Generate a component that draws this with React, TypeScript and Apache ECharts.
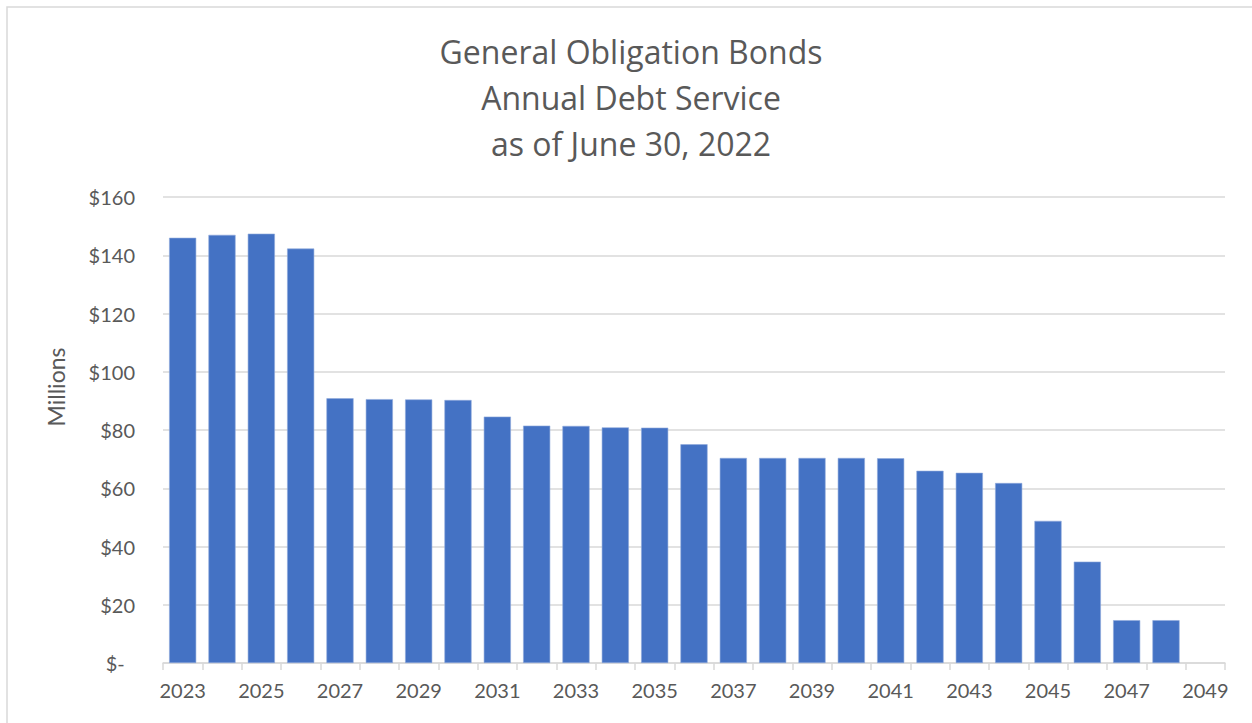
import React, { useEffect, useRef } from "react";
import * as echarts from "echarts";

const titleLines = ["General Obligation Bonds", "Annual Debt Service", "as of June 30, 2022"];
const years = [
  "2023", "2024", "2025", "2026", "2027", "2028", "2029", "2030", "2031", "2032",
  "2033", "2034", "2035", "2036", "2037", "2038", "2039", "2040", "2041", "2042",
  "2043", "2044", "2045", "2046", "2047", "2048", "2049",
];
const debtService = [
  146.0, 147.0, 147.4, 142.3, 90.9, 90.6, 90.5, 90.3, 84.6, 81.5,
  81.4, 80.9, 80.8, 75.1, 70.4, 70.4, 70.4, 70.4, 70.3, 66.0,
  65.3, 61.8, 48.8, 34.8, 14.7, 14.7,
];
const yAxisName = "Millions";

const FONT = "Lato, 'Open Sans', sans-serif";
const TITLE_FONT = "'Open Sans', Lato, sans-serif";
const TEXT = "#595959";
const GRID = "#d9d9d9";

export default function App() {
  const ref = useRef<HTMLDivElement>(null);
  useEffect(() => {
    if (!ref.current) return;
    const chart = echarts.init(ref.current, undefined, { renderer: "svg" });
    chart.setOption({
      animation: false,
      backgroundColor: "#ffffff",
      graphic: [
        {
          type: "rect",
          shape: { x: 7, y: 7, width: 1270, height: 740 },
          style: { fill: "none", stroke: GRID, lineWidth: 1.5 },
          silent: true,
        },
        ...titleLines.map((t, i) => ({
          type: "text",
          x: 631,
          y: 51 + i * 46,
          style: {
            text: t,
            fill: TEXT,
            font: `32px ${TITLE_FONT}`,
            textAlign: "center",
            textVerticalAlign: "middle",
          },
        })),
        {
          type: "text",
          x: 56,
          y: 387,
          rotation: Math.PI / 2,
          style: {
            text: yAxisName,
            fill: TEXT,
            font: `23px ${FONT}`,
            textAlign: "center",
            textVerticalAlign: "middle",
          },
        },
      ],
      grid: { left: 163, right: 27, top: 197, bottom: 60, containLabel: false },
      xAxis: {
        type: "category",
        data: years,
        boundaryGap: true,
        axisLine: { lineStyle: { color: GRID, width: 1.5 } },
        axisTick: { show: true, interval: 0, length: 7, lineStyle: { color: GRID, width: 1.5 } },
        axisLabel: {
          interval: 1,
          color: TEXT,
          fontSize: 20,
          fontFamily: FONT,
          margin: 17,
        },
      },
      yAxis: {
        type: "value",
        min: 0,
        max: 160,
        interval: 20,
        axisLine: { show: false },
        axisTick: { show: false },
        splitLine: { lineStyle: { color: GRID, width: 1.5 } },
        axisLabel: {
          color: TEXT,
          fontSize: 20,
          fontFamily: FONT,
          margin: 28,
          formatter: (v: number) => (v === 0 ? "$-  " : "$" + v),
        },
      },
      series: [
        {
          type: "bar",
          data: debtService,
          barWidth: "69%",
          itemStyle: { color: "#4472C4", borderColor: "#8faadc", borderWidth: 0.6 },
        },
      ],
    });
    return () => chart.dispose();
  }, []);
  return (
    <div
      ref={ref}
      style={{ position: "absolute", left: 0, top: 0, width: 1252, height: 723 }}
    />
  );
}
